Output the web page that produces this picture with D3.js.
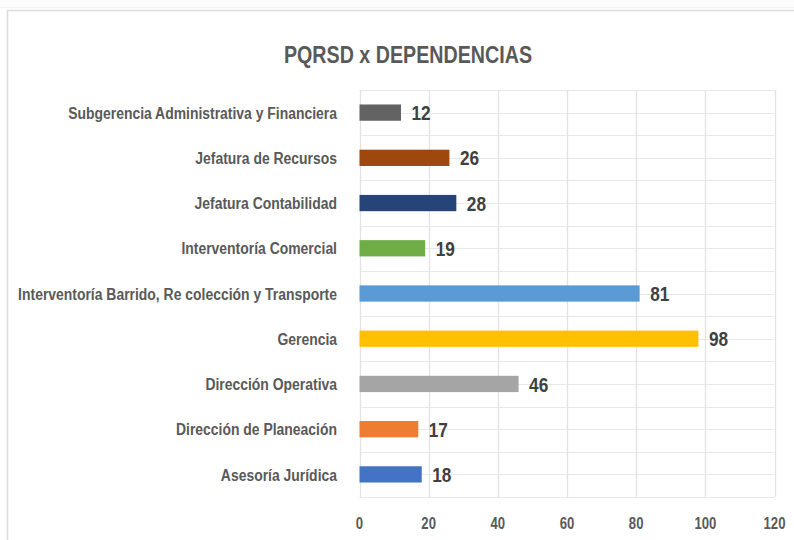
<!DOCTYPE html>
<html>
<head>
<meta charset="utf-8">
<script src="https://cdn.jsdelivr.net/npm/d3@7"></script>
<style>
  body { margin: 0; background: #fff; }
  text { font-family: "Liberation Sans", Arial, sans-serif; font-weight: bold; }
</style>
</head>
<body>
<div id="chart"></div>
<script>
// data, bottom to top as in the picture
var categories = ["Asesoría Jurídica", "Dirección de Planeación", "Dirección Operativa", "Gerencia",
    "Interventoría Barrido, Re colección y Transporte", "Interventoría Comercial",
    "Jefatura Contabilidad", "Jefatura de Recursos", "Subgerencia Administrativa y Financiera"];
var values = [18, 17, 46, 98, 81, 19, 28, 26, 12];
var colors = ["#4472C4", "#ED7D31", "#A5A5A5", "#FFC000", "#5B9BD5", "#70AD47", "#264478", "#9E480E", "#636363"];
var xTicks = [0, 20, 40, 60, 80, 100, 120];

var w = 794;
var h = 540;
var plotLeft = 359.5, plotRight = 774.5, plotTop = 90, plotBottom = 497;
var narrow = 0.82; // squeeze Liberation Sans to a narrow face

// place a text at (x, y) with horizontal squeeze
function place(x, y) {
    return "translate(" + x + "," + y + ") scale(" + narrow + ",1)";
}

var svg = d3.select("#chart").append("svg").attr("width", w).attr("height", h);

// faint strip above the frame
svg.append("rect")
    .attr("x", 0).attr("y", 0).attr("width", w).attr("height", 9)
    .attr("fill", "#fcfcfc");
svg.append("line")
    .attr("x1", 0).attr("x2", w).attr("y1", 7.5).attr("y2", 7.5)
    .attr("stroke", "#f3f3f3");

// chart frame
svg.append("rect")
    .attr("x", 7.5).attr("y", 10.5)
    .attr("width", w + 20).attr("height", h + 20)
    .attr("fill", "#fff").attr("stroke", "#dcdcdc").attr("stroke-width", 1.5);

var xScale = d3.scaleLinear().domain([0, 120]).range([plotLeft, plotRight]);
var yScale = d3.scaleBand().domain(categories.slice().reverse()).range([plotTop, plotBottom]).paddingInner(0.64).paddingOuter(0.32);
var step = yScale.step();

// horizontal gridlines at band edges and centres
var hLines = d3.range(0, categories.length * 2 + 1).map(function(i) { return plotTop + i * step / 2; });
svg.selectAll(".hgrid")
    .data(hLines)
    .enter()
    .append("line")
    .attr("x1", plotLeft).attr("x2", plotRight)
    .attr("y1", (d) => Math.round(d) + 0.5).attr("y2", (d) => Math.round(d) + 0.5)
    .attr("stroke", "#e8e8e8");

// vertical gridlines
svg.selectAll(".vgrid")
    .data(xTicks)
    .enter()
    .append("line")
    .attr("x1", (d) => Math.round(xScale(d)) + 0.5).attr("x2", (d) => Math.round(xScale(d)) + 0.5)
    .attr("y1", plotTop).attr("y2", plotBottom)
    .attr("stroke", "#e3e3e3").attr("stroke-width", 1.3);

// bars
svg.selectAll(".bar")
    .data(values)
    .enter()
    .append("rect")
    .attr("x", xScale(0))
    .attr("y", function(d, i) { return yScale(categories[i]); })
    .attr("width", (d) => xScale(d) - xScale(0))
    .attr("height", yScale.bandwidth())
    .attr("fill", function(d, i) { return colors[i]; });

// value labels
svg.selectAll(".val")
    .data(values)
    .enter()
    .append("text")
    .attr("transform", function(d, i) {
        return place(xScale(d) + 10.5, yScale(categories[i]) + yScale.bandwidth() / 2);
    })
    .attr("dy", "0.36em")
    .attr("font-size", 21)
    .attr("fill", "#404040")
    .text((d) => d);

// category labels
svg.selectAll(".cat")
    .data(categories)
    .enter()
    .append("text")
    .attr("transform", (d) => place(337, yScale(d) + yScale.bandwidth() / 2))
    .attr("dy", "0.36em")
    .attr("text-anchor", "end")
    .attr("font-size", 17)
    .attr("fill", "#595959")
    .text((d) => d);

// x axis tick labels
svg.selectAll(".tick")
    .data(xTicks)
    .enter()
    .append("text")
    .attr("transform", (d) => place(xScale(d), 523))
    .attr("dy", "0.36em")
    .attr("text-anchor", "middle")
    .attr("font-size", 16)
    .attr("fill", "#595959")
    .text((d) => d);

// title
svg.append("text")
    .attr("transform", place(408, 63))
    .attr("text-anchor", "middle")
    .attr("font-size", 24)
    .attr("fill", "#595959")
    .text("PQRSD x DEPENDENCIAS");
</script>
</body>
</html>
